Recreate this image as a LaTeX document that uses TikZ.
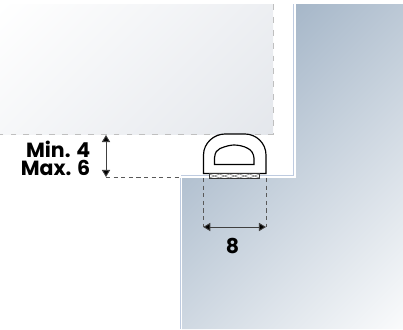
\documentclass[tikz,border=0pt]{standalone}
\usepackage{fontspec}
\setmainfont{Poppins}
\usetikzlibrary{arrows.meta}
\definecolor{wallgrey}{RGB}{228,231,236}
\definecolor{bluedark}{RGB}{155,174,194}
\definecolor{bluemid}{RGB}{160,177,197}
\definecolor{blueedge}{RGB}{190,203,224}
\tikzset{
dim/.style={black!75,line width=0.8pt,{Triangle[length=6pt,width=7pt,fill=black]}-{Triangle[length=6pt,width=7pt,fill=black]}},
guide/.style={black!65,line width=0.8pt,dash pattern=on 3.5pt off 3pt},
sizelabel/.style={inner sep=0pt,font=\fontsize{17.5}{15.7}\selectfont\bfseries,text=black}
}
\begin{document}
\begin{tikzpicture}[scale=0.03]
\useasboundingbox (0,0) rectangle (403,-329);
% wall panels
\begin{scope}
\clip (0,-4) rectangle (273,-134);
\shade [top color=white,bottom color=wallgrey,shading angle=45]
  (136.5-142.5,-69-142.5) rectangle (136.5+142.5,-69+142.5);
\end{scope}
\draw [black!25,line width=0.7pt,dash pattern=on 5pt off 6pt] (273,-4) -- (273,-134) -- (0,-134);
\begin{scope}
\clip (296,-4) -- (403,-4) -- (403,-329) -- (182,-329) -- (182,-178) -- (296,-178) -- cycle;
\shade [top color=bluedark,middle color=bluemid,bottom color=white,shading angle=45]
  (313-183,-187-183) rectangle (313+183,-187+183);
\end{scope}
\draw [blueedge,line width=0.8pt] (293.8,-4) -- (293.8,-175.8) -- (181,-175.8);
\draw [blueedge,line width=0.8pt] (180.7,-178) -- (180.7,-329);
% seal
\draw [black,fill=white,line width=1pt] (203.5,-173.5) -- (203.5,-155) .. controls (203.5,-143) and (214,-134) .. (225,-134) -- (245,-134) .. controls (256,-134) and (266,-143) .. (266,-155) -- (266,-173.5) -- cycle;
\draw [black,line width=1pt] (214.5,-164.5) -- (214.5,-158) .. controls (215,-152) and (217,-150) .. (220,-148.5) .. controls (226,-146) and (231,-145) .. (234,-145) .. controls (238,-145) and (244,-146) .. (248,-148.5) .. controls (251,-150) and (253.5,-153) .. (254,-158) -- (254,-164.5) -- cycle;
\draw [black!80,line width=0.8pt,fill=white] (209.5,-173.5) rectangle (259.5,-178);
\foreach \hatchx in {209.5,219.5,229.5,239.5,249.5}
  \draw [black!50,line width=0.5pt] (\hatchx,-174) -- (\hatchx+10,-178) (\hatchx,-178) -- (\hatchx+10,-174);
% sizes
\coordinate (sealleft) at (203.3,-178);
\coordinate (sealright) at (266,-178);
\coordinate (widthleft) at (203.3,-227);
\coordinate (widthright) at (266,-227);
\coordinate (gaptop) at (106,-135);
\coordinate (gapbottom) at (106,-177);
\coordinate (steptop) at (181,-177);
\draw [guide] (sealleft) -- (widthleft);
\draw [guide] (sealright) -- (widthright);
\draw [guide] (gapbottom) -- (steptop);
\draw [dim] (widthleft) -- (widthright);
\draw [dim] (gaptop) -- (gapbottom);
\node [sizelabel,anchor=east,align=right] (gaplabel) at (90.5,-158.5) {Min. 4\\Max. 6};
\node [sizelabel] (widthlabel) at (232.5,-246) {8};
\end{tikzpicture}
\end{document}
